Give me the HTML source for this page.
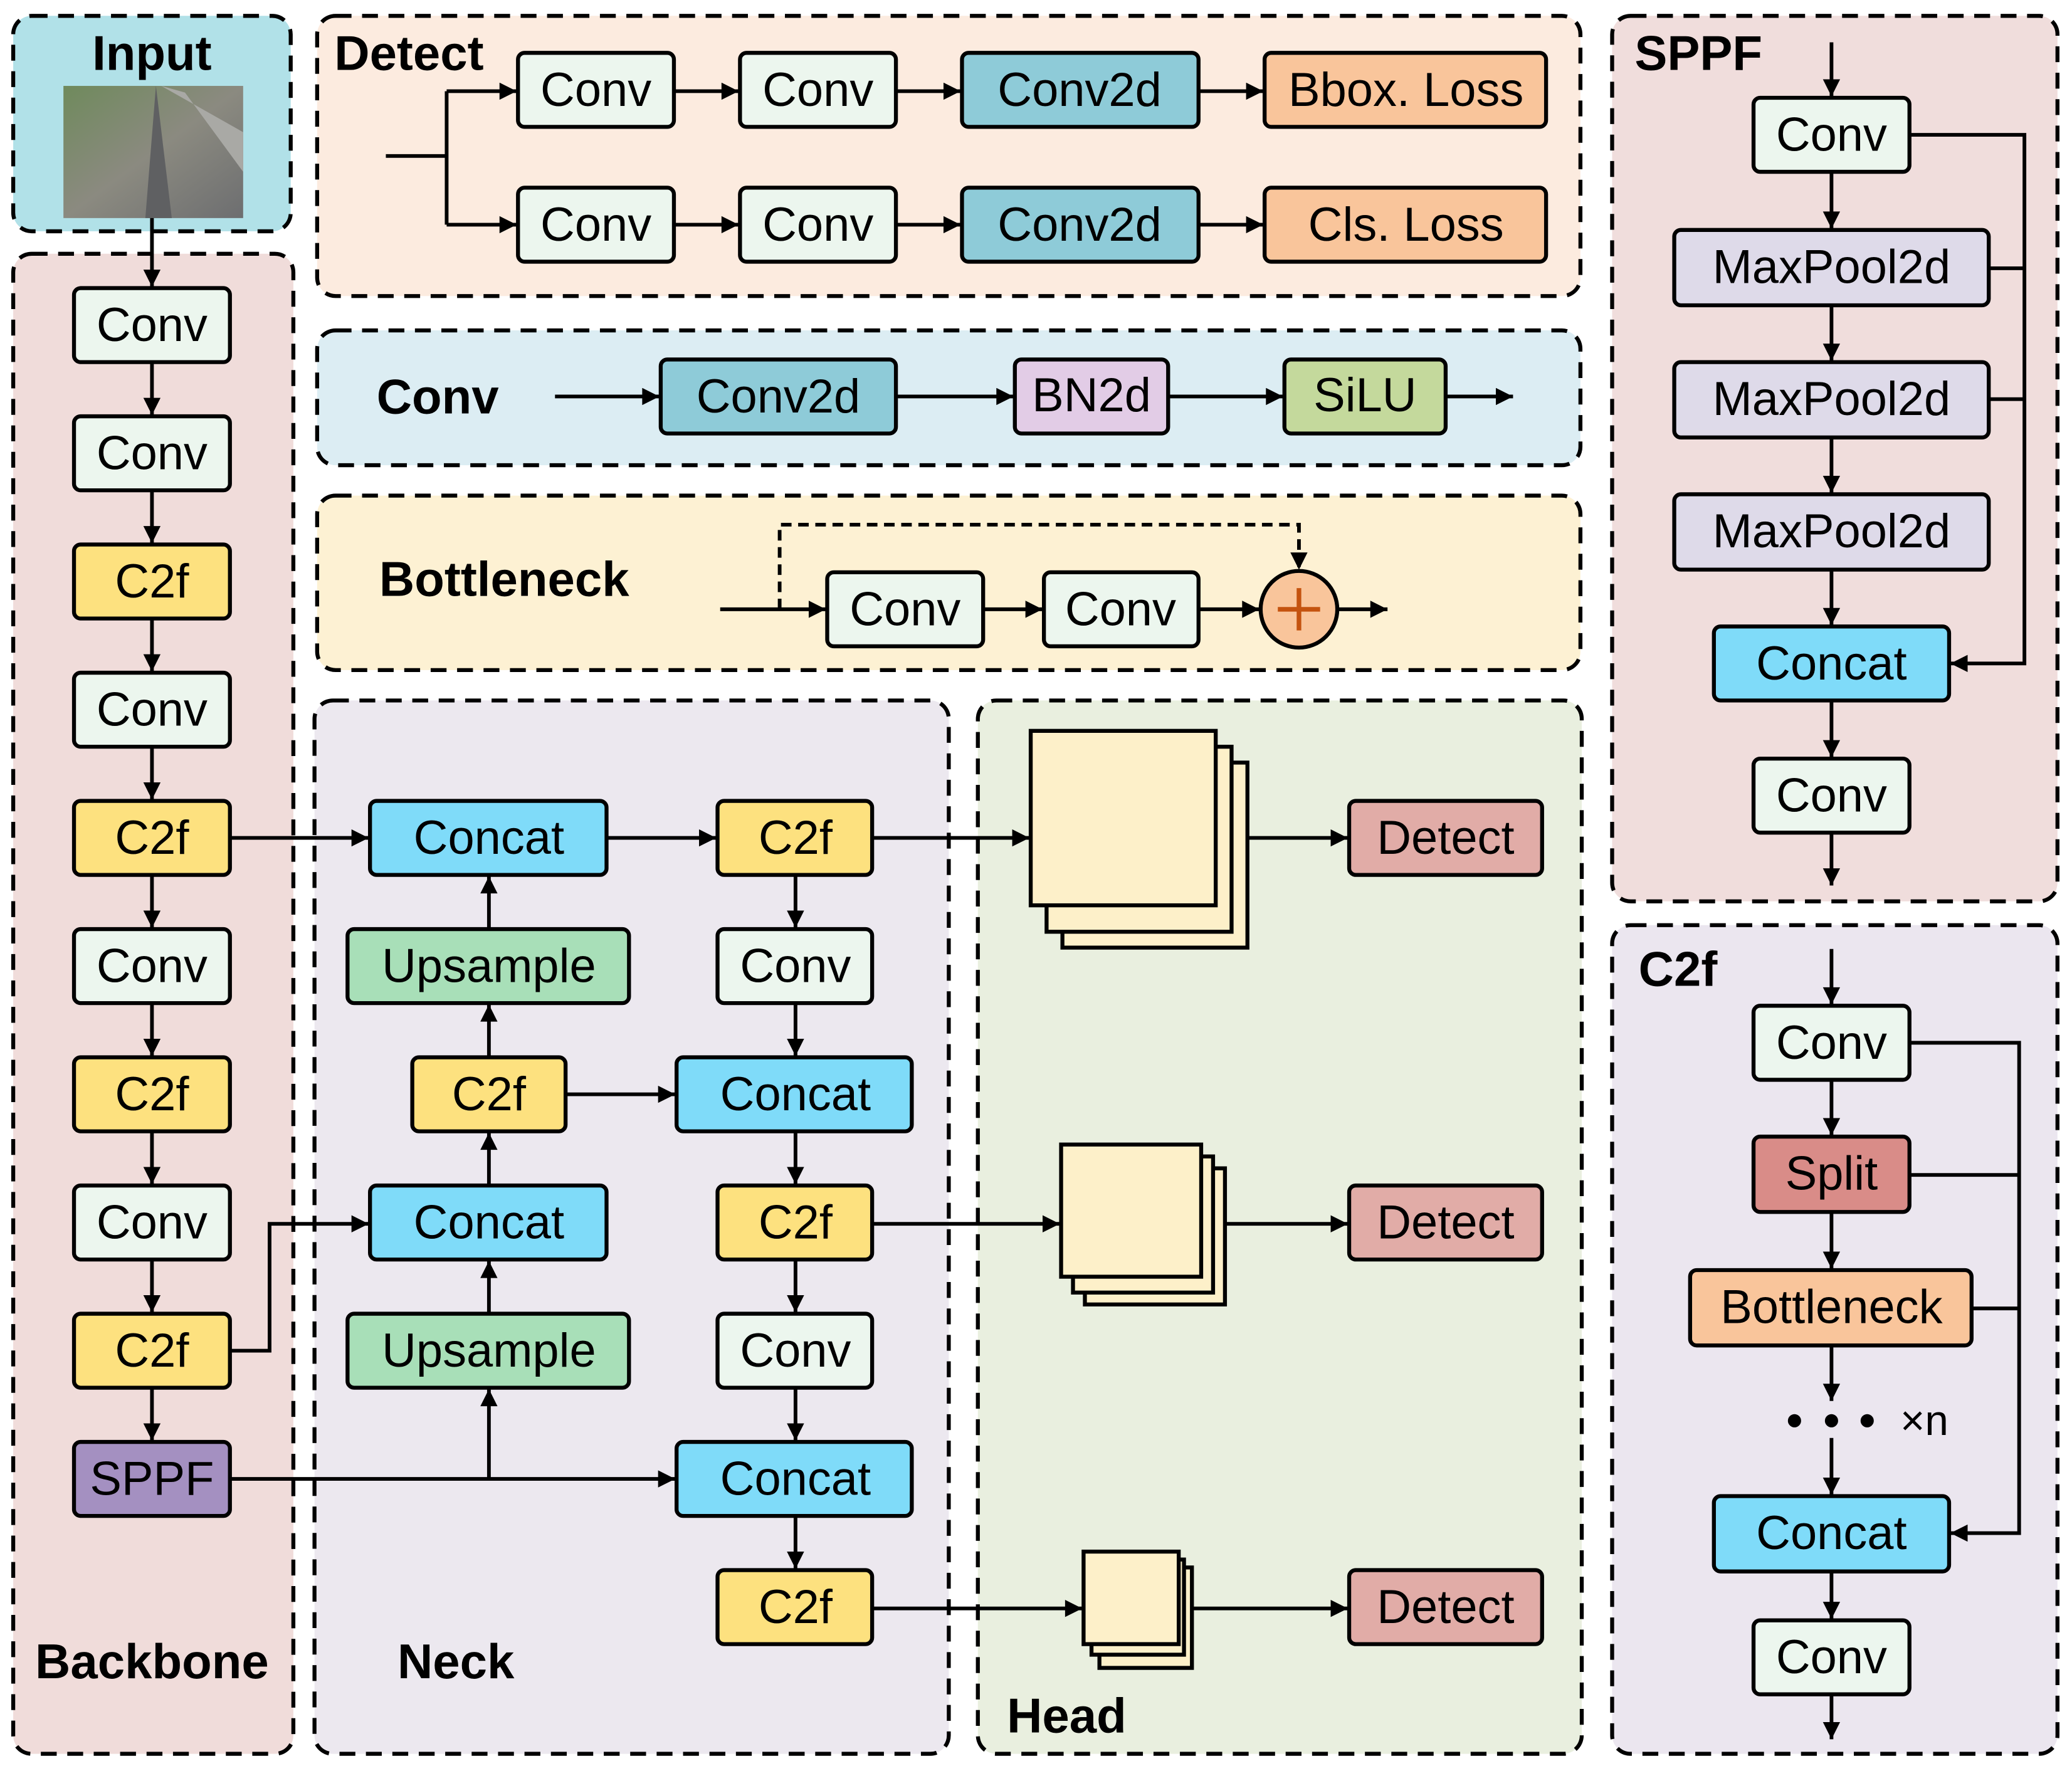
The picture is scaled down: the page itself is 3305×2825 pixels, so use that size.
<!DOCTYPE html>
<html><head><meta charset="utf-8"><style>
html,body{margin:0;padding:0;background:#fff}
svg{display:block}
text{font-family:"Liberation Sans","DejaVu Sans",sans-serif}
.b{stroke:#000;stroke-width:3}
.t{font-size:36px;text-anchor:middle;dominant-baseline:central}
.h{font-size:37px;font-weight:bold}
.p{stroke:#000;stroke-width:3;stroke-dasharray:12 8;}
.l{stroke:#000;stroke-width:2.8;fill:none}
</style></head><body>
<svg width="3305" height="2825" viewBox="0 0 1568 1340" preserveAspectRatio="none" xmlns="http://www.w3.org/2000/svg">
<defs><marker id="a" viewBox="0 0 10 10" refX="10" refY="5" markerWidth="16" markerHeight="13" markerUnits="userSpaceOnUse" orient="auto"><path d="M0,0L10,5L0,10z"/></marker></defs>
<!-- panels -->
<rect class="p" x="10" y="12" width="210" height="163" rx="14" fill="#b1e1e8"/>
<rect class="p" x="10" y="192" width="212" height="1135" rx="14" fill="#f0dcda"/>
<rect class="p" x="240" y="12" width="956" height="212" rx="14" fill="#fcebdf"/>
<rect class="p" x="240" y="250" width="956" height="102" rx="14" fill="#dcedf3"/>
<rect class="p" x="240" y="375" width="956" height="132" rx="14" fill="#fdf1d3"/>
<rect class="p" x="238" y="530" width="480" height="797" rx="14" fill="#ece8ef"/>
<rect class="p" x="740" y="530" width="457" height="797" rx="14" fill="#e9efdf"/>
<rect class="p" x="1220" y="12" width="337" height="670" rx="14" fill="#f0dddc"/>
<rect class="p" x="1220" y="700" width="337" height="627" rx="14" fill="#ebe6ef"/>
<!-- input image -->
<defs><linearGradient id="g" x1="0" y1="0" x2="1" y2="1"><stop offset="0" stop-color="#6f8a5c"/><stop offset="0.5" stop-color="#8b8a80"/><stop offset="1" stop-color="#6d6e70"/></linearGradient></defs>
<rect x="48" y="65" width="136" height="100" fill="url(#g)"/>
<path d="M118,65 L130,165 L110,165 Z" fill="#5f6062"/>
<path d="M122,65 L184,100 L184,130 L140,70Z" fill="#a9a9a5"/>
<text class="h" x="115" y="40" text-anchor="middle" dominant-baseline="central">Input</text>
<text class="h" x="253" y="40" dominant-baseline="central">Detect</text>
<text class="h" x="1237" y="40" dominant-baseline="central">SPPF</text>
<text class="h" x="1240" y="733" dominant-baseline="central">C2f</text>
<text class="h" x="115" y="1257" text-anchor="middle" dominant-baseline="central">Backbone</text>
<text class="h" x="345" y="1257" text-anchor="middle" dominant-baseline="central">Neck</text>
<text class="h" x="762" y="1298" dominant-baseline="central">Head</text>
<text class="h" x="285" y="300" dominant-baseline="central">Conv</text>
<text class="h" x="287" y="438" dominant-baseline="central">Bottleneck</text>

<!-- connectors -->
<g class="l">
<line x1="115" y1="165" x2="115" y2="217" marker-end="url(#a)"/>
<line x1="115" y1="274" x2="115" y2="314" marker-end="url(#a)"/>
<line x1="115" y1="371" x2="115" y2="411" marker-end="url(#a)"/>
<line x1="115" y1="468" x2="115" y2="508" marker-end="url(#a)"/>
<line x1="115" y1="565" x2="115" y2="605" marker-end="url(#a)"/>
<line x1="115" y1="662" x2="115" y2="702" marker-end="url(#a)"/>
<line x1="115" y1="759" x2="115" y2="799" marker-end="url(#a)"/>
<line x1="115" y1="856" x2="115" y2="896" marker-end="url(#a)"/>
<line x1="115" y1="953" x2="115" y2="993" marker-end="url(#a)"/>
<line x1="115" y1="1050" x2="115" y2="1090" marker-end="url(#a)"/>
<!-- detect -->
<polyline points="292,118 338,118"/>
<polyline points="338,69 338,170"/>
<line x1="338" y1="69" x2="391" y2="69" marker-end="url(#a)"/>
<line x1="338" y1="170" x2="391" y2="170" marker-end="url(#a)"/>
<line x1="510" y1="69" x2="559" y2="69" marker-end="url(#a)"/>
<line x1="678" y1="69" x2="727" y2="69" marker-end="url(#a)"/>
<line x1="907" y1="69" x2="956" y2="69" marker-end="url(#a)"/>
<line x1="510" y1="170" x2="559" y2="170" marker-end="url(#a)"/>
<line x1="678" y1="170" x2="727" y2="170" marker-end="url(#a)"/>
<line x1="907" y1="170" x2="956" y2="170" marker-end="url(#a)"/>
<!-- conv panel -->
<line x1="420" y1="300" x2="499" y2="300" marker-end="url(#a)"/>
<line x1="678" y1="300" x2="767" y2="300" marker-end="url(#a)"/>
<line x1="884" y1="300" x2="971" y2="300" marker-end="url(#a)"/>
<line x1="1094" y1="300" x2="1145" y2="300" marker-end="url(#a)"/>
<!-- bottleneck -->
<line x1="545" y1="461" x2="625" y2="461" marker-end="url(#a)"/>
<line x1="744" y1="461" x2="789" y2="461" marker-end="url(#a)"/>
<line x1="907" y1="461" x2="953" y2="461" marker-end="url(#a)"/>
<line x1="1012" y1="461" x2="1050" y2="461" marker-end="url(#a)"/>
<polyline points="590,461 590,397 983,397 983,431" stroke-dasharray="8 5" marker-end="url(#a)"/>
<!-- neck -->
<line x1="174" y1="634" x2="279" y2="634" marker-end="url(#a)"/>
<line x1="459" y1="634" x2="542" y2="634" marker-end="url(#a)"/>
<line x1="660" y1="634" x2="779" y2="634" marker-end="url(#a)"/>
<line x1="944" y1="634" x2="1020" y2="634" marker-end="url(#a)"/>
<line x1="370" y1="703" x2="370" y2="663" marker-end="url(#a)"/>
<line x1="370" y1="800" x2="370" y2="760" marker-end="url(#a)"/>
<line x1="428" y1="828" x2="511" y2="828" marker-end="url(#a)"/>
<line x1="370" y1="897" x2="370" y2="857" marker-end="url(#a)"/>
<line x1="370" y1="994" x2="370" y2="954" marker-end="url(#a)"/>
<polyline points="174,1119 511,1119" marker-end="url(#a)"/>
<line x1="370" y1="1119" x2="370" y2="1051" marker-end="url(#a)"/>
<polyline points="174,1022 204,1022 204,926 279,926" marker-end="url(#a)"/>
<line x1="602" y1="662" x2="602" y2="702" marker-end="url(#a)"/>
<line x1="602" y1="759" x2="602" y2="799" marker-end="url(#a)"/>
<line x1="602" y1="856" x2="602" y2="896" marker-end="url(#a)"/>
<line x1="602" y1="953" x2="602" y2="993" marker-end="url(#a)"/>
<line x1="602" y1="1050" x2="602" y2="1090" marker-end="url(#a)"/>
<line x1="602" y1="1147" x2="602" y2="1187" marker-end="url(#a)"/>
<line x1="660" y1="926" x2="802" y2="926" marker-end="url(#a)"/>
<line x1="927" y1="926" x2="1020" y2="926" marker-end="url(#a)"/>
<line x1="660" y1="1217" x2="819" y2="1217" marker-end="url(#a)"/>
<line x1="902" y1="1217" x2="1020" y2="1217" marker-end="url(#a)"/>
<!-- sppf -->
<line x1="1386" y1="32" x2="1386" y2="73" marker-end="url(#a)"/>
<line x1="1386" y1="130" x2="1386" y2="173" marker-end="url(#a)"/>
<line x1="1386" y1="231" x2="1386" y2="273" marker-end="url(#a)"/>
<line x1="1386" y1="331" x2="1386" y2="373" marker-end="url(#a)"/>
<line x1="1386" y1="431" x2="1386" y2="473" marker-end="url(#a)"/>
<line x1="1386" y1="530" x2="1386" y2="573" marker-end="url(#a)"/>
<line x1="1386" y1="630" x2="1386" y2="670" marker-end="url(#a)"/>
<polyline points="1445,102 1532,102 1532,502 1476,502" marker-end="url(#a)"/>
<polyline points="1505,203 1532,203"/>
<polyline points="1505,302 1532,302"/>
<!-- c2f -->
<line x1="1386" y1="718" x2="1386" y2="760" marker-end="url(#a)"/>
<line x1="1386" y1="817" x2="1386" y2="859" marker-end="url(#a)"/>
<line x1="1386" y1="917" x2="1386" y2="960" marker-end="url(#a)"/>
<line x1="1386" y1="1018" x2="1386" y2="1060" marker-end="url(#a)"/>
<line x1="1386" y1="1088" x2="1386" y2="1131" marker-end="url(#a)"/>
<line x1="1386" y1="1189" x2="1386" y2="1225" marker-end="url(#a)"/>
<line x1="1386" y1="1282" x2="1386" y2="1316" marker-end="url(#a)"/>
<polyline points="1445,789 1528,789 1528,1160 1476,1160" marker-end="url(#a)"/>
<polyline points="1445,889 1528,889"/>
<polyline points="1492,990 1528,990"/>
</g>
<circle cx="1358" cy="1075" r="5"/><circle cx="1386" cy="1075" r="5"/><circle cx="1413" cy="1075" r="5"/>
<text x="1438" y="1075" font-size="32" dominant-baseline="central">×n</text>

<!-- head stacks -->
<g class="b" fill="#fdf0c9">
<rect x="804" y="577" width="140" height="140"/><rect x="792" y="565" width="140" height="140"/><rect x="780" y="553" width="140" height="132"/>
<rect x="821" y="884" width="106" height="103"/><rect x="812" y="875" width="106" height="103"/><rect x="803" y="866" width="106" height="100"/>
<rect x="832" y="1186" width="70" height="76"/><rect x="826" y="1180" width="70" height="72"/><rect x="820" y="1174" width="72" height="70"/>
</g>

<!-- boxes -->
<g class="b">
<rect x="56" y="218" width="118" height="56" rx="5" fill="#ecf6ee"/>
<rect x="56" y="315" width="118" height="56" rx="5" fill="#ecf6ee"/>
<rect x="56" y="412" width="118" height="56" rx="5" fill="#fde17f"/>
<rect x="56" y="509" width="118" height="56" rx="5" fill="#ecf6ee"/>
<rect x="56" y="606" width="118" height="56" rx="5" fill="#fde17f"/>
<rect x="56" y="703" width="118" height="56" rx="5" fill="#ecf6ee"/>
<rect x="56" y="800" width="118" height="56" rx="5" fill="#fde17f"/>
<rect x="56" y="897" width="118" height="56" rx="5" fill="#ecf6ee"/>
<rect x="56" y="994" width="118" height="56" rx="5" fill="#fde17f"/>
<rect x="56" y="1091" width="118" height="56" rx="5" fill="#a490c1"/>
<rect x="392" y="40" width="118" height="56" rx="5" fill="#ecf6ee"/>
<rect x="560" y="40" width="118" height="56" rx="5" fill="#ecf6ee"/>
<rect x="728" y="40" width="179" height="56" rx="5" fill="#8ecbd8"/>
<rect x="957" y="40" width="213" height="56" rx="5" fill="#f9c59b"/>
<rect x="392" y="142" width="118" height="56" rx="5" fill="#ecf6ee"/>
<rect x="560" y="142" width="118" height="56" rx="5" fill="#ecf6ee"/>
<rect x="728" y="142" width="179" height="56" rx="5" fill="#8ecbd8"/>
<rect x="957" y="142" width="213" height="56" rx="5" fill="#f9c59b"/>
<rect x="500" y="272" width="178" height="56" rx="5" fill="#8ecbd8"/>
<rect x="768" y="272" width="116" height="56" rx="5" fill="#e2cce6"/>
<rect x="972" y="272" width="122" height="56" rx="5" fill="#c4d99c"/>
<rect x="626" y="433" width="118" height="56" rx="5" fill="#ecf6ee"/>
<rect x="790" y="433" width="117" height="56" rx="5" fill="#ecf6ee"/>
<circle cx="983" cy="461" r="29" fill="#f9c59b"/>
<rect x="280" y="606" width="179" height="56" rx="5" fill="#7fdbf9"/>
<rect x="263" y="703" width="213" height="56" rx="5" fill="#a8dfb8"/>
<rect x="312" y="800" width="116" height="56" rx="5" fill="#fde17f"/>
<rect x="280" y="897" width="179" height="56" rx="5" fill="#7fdbf9"/>
<rect x="263" y="994" width="213" height="56" rx="5" fill="#a8dfb8"/>
<rect x="543" y="606" width="117" height="56" rx="5" fill="#fde17f"/>
<rect x="543" y="703" width="117" height="56" rx="5" fill="#ecf6ee"/>
<rect x="512" y="800" width="178" height="56" rx="5" fill="#7fdbf9"/>
<rect x="543" y="897" width="117" height="56" rx="5" fill="#fde17f"/>
<rect x="543" y="994" width="117" height="56" rx="5" fill="#ecf6ee"/>
<rect x="512" y="1091" width="178" height="56" rx="5" fill="#7fdbf9"/>
<rect x="543" y="1188" width="117" height="56" rx="5" fill="#fde17f"/>
<rect x="1021" y="606" width="146" height="56" rx="5" fill="#e1aca7"/>
<rect x="1021" y="897" width="146" height="56" rx="5" fill="#e1aca7"/>
<rect x="1021" y="1188" width="146" height="56" rx="5" fill="#e1aca7"/>
<rect x="1327" y="74" width="118" height="56" rx="5" fill="#ecf6ee"/>
<rect x="1267" y="174" width="238" height="57" rx="5" fill="#dedae9"/>
<rect x="1267" y="274" width="238" height="57" rx="5" fill="#dedae9"/>
<rect x="1267" y="374" width="238" height="57" rx="5" fill="#dedae9"/>
<rect x="1297" y="474" width="178" height="56" rx="5" fill="#7fdbf9"/>
<rect x="1327" y="574" width="118" height="56" rx="5" fill="#ecf6ee"/>
<rect x="1327" y="761" width="118" height="56" rx="5" fill="#ecf6ee"/>
<rect x="1327" y="860" width="118" height="57" rx="5" fill="#d98c88"/>
<rect x="1279" y="961" width="213" height="57" rx="5" fill="#f9c59b"/>
<rect x="1297" y="1132" width="178" height="57" rx="5" fill="#7fdbf9"/>
<rect x="1327" y="1226" width="118" height="56" rx="5" fill="#ecf6ee"/>
</g>
<path d="M983,445V477M967,461H999" stroke="#c4530f" stroke-width="3.5"/>

<g class="t">
<text x="115" y="246">Conv</text><text x="115" y="343">Conv</text><text x="115" y="440">C2f</text>
<text x="115" y="537">Conv</text><text x="115" y="634">C2f</text><text x="115" y="731">Conv</text>
<text x="115" y="828">C2f</text><text x="115" y="925">Conv</text><text x="115" y="1022">C2f</text>
<text x="115" y="1119">SPPF</text>
<text x="451" y="68">Conv</text><text x="619" y="68">Conv</text><text x="817" y="68">Conv2d</text><text x="1064" y="68">Bbox. Loss</text>
<text x="451" y="170">Conv</text><text x="619" y="170">Conv</text><text x="817" y="170">Conv2d</text><text x="1064" y="170">Cls. Loss</text>
<text x="589" y="300">Conv2d</text><text x="826" y="299">BN2d</text><text x="1033" y="299">SiLU</text>
<text x="685" y="461">Conv</text><text x="848" y="461">Conv</text>
<text x="370" y="634">Concat</text><text x="370" y="731">Upsample</text><text x="370" y="828">C2f</text>
<text x="370" y="925">Concat</text><text x="370" y="1022">Upsample</text>
<text x="602" y="634">C2f</text><text x="602" y="731">Conv</text><text x="602" y="828">Concat</text>
<text x="602" y="925">C2f</text><text x="602" y="1022">Conv</text><text x="602" y="1119">Concat</text><text x="602" y="1216">C2f</text>
<text x="1094" y="634">Detect</text><text x="1094" y="925">Detect</text><text x="1094" y="1216">Detect</text>
<text x="1386" y="102">Conv</text><text x="1386" y="202">MaxPool2d</text><text x="1386" y="302">MaxPool2d</text>
<text x="1386" y="402">MaxPool2d</text><text x="1386" y="502">Concat</text><text x="1386" y="602">Conv</text>
<text x="1386" y="789">Conv</text><text x="1386" y="888">Split</text><text x="1386" y="989">Bottleneck</text>
<text x="1386" y="1160">Concat</text><text x="1386" y="1254">Conv</text>
</g>
</svg>
</body></html>
